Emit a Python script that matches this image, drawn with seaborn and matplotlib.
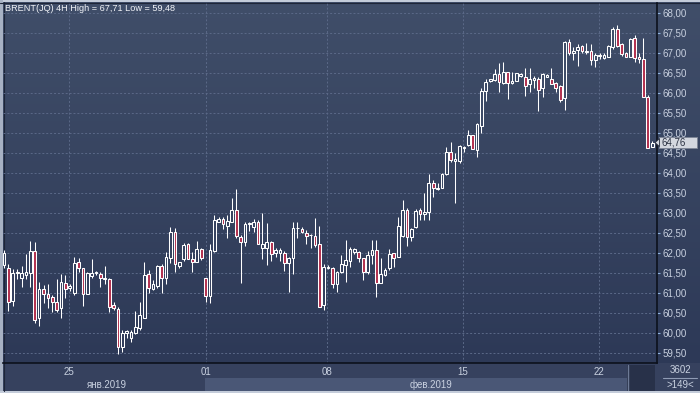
import numpy as np
import pandas as pd
import matplotlib
matplotlib.use("Agg")
import matplotlib.pyplot as plt
import seaborn as sns
from matplotlib.patches import Rectangle, Polygon

# ---------------- data (4H candles, BRENT) ----------------
opens = [61.70, 61.62, 60.80, 61.49, 61.38, 61.45, 61.49, 62.06, 60.37, 61.09,
         60.97, 60.89, 60.77, 60.62, 61.26, 61.12, 60.99, 61.77, 61.62, 60.97,
         61.43, 61.50, 61.48, 61.36, 61.34, 60.70, 60.59, 59.66, 60.00, 59.87,
         60.01, 60.12, 60.38, 61.47, 61.10, 61.18, 61.67, 61.37, 61.88, 62.53,
         61.68, 61.84, 62.22, 61.85, 61.78, 62.09, 61.37, 60.92, 62.06, 62.78,
         62.84, 62.68, 62.77, 63.08, 62.41, 62.27, 62.72, 62.64, 62.78, 62.13,
         62.13, 62.27, 61.99, 62.00, 61.99, 61.74, 61.88, 62.62, 62.60, 62.51,
         62.44, 62.42, 62.22, 60.70, 61.62, 61.62, 61.22, 61.53, 61.70, 61.81,
         62.03, 62.02, 61.87, 61.53, 61.95, 62.08, 61.24, 61.45, 61.63, 61.99,
         61.91, 62.43, 63.08, 62.41, 62.64, 63.07, 62.97, 63.02, 63.74, 63.61,
         63.62, 63.97, 64.53, 64.29, 64.29, 64.63, 64.70, 64.95, 64.58, 65.18,
         66.05, 66.30, 66.33, 66.47, 66.26, 66.52, 66.26, 66.31, 66.43, 66.41,
         66.22, 66.33, 66.34, 66.12, 66.39, 66.34, 66.24, 66.18, 65.87, 67.28,
         66.99, 67.08, 67.18, 67.02, 67.05, 66.83, 66.93, 66.87, 66.89, 67.16,
         67.59, 67.22, 66.99, 66.89, 67.37, 66.89, 66.84, 65.89, 64.64]
highs = [62.08, 61.73, 61.59, 61.59, 61.67, 61.97, 62.30, 62.28, 61.28, 61.20,
         61.22, 60.95, 61.34, 61.48, 61.45, 61.23, 61.91, 61.87, 61.62, 61.52,
         61.85, 61.56, 61.52, 61.67, 61.37, 60.77, 60.66, 60.08, 60.08, 60.08,
         60.55, 60.77, 61.77, 61.57, 61.32, 61.70, 61.72, 62.02, 62.64, 62.62,
         61.78, 62.24, 62.24, 62.03, 62.30, 62.12, 61.38, 62.22, 62.95, 62.89,
         62.91, 62.95, 63.38, 63.60, 62.45, 62.78, 62.78, 62.84, 62.82, 63.01,
         62.76, 62.30, 62.12, 62.12, 62.05, 61.91, 62.78, 62.78, 62.66, 62.57,
         62.47, 62.87, 62.67, 61.72, 61.70, 61.66, 61.55, 61.95, 62.33, 62.16,
         62.12, 62.05, 61.88, 62.05, 62.33, 62.33, 61.87, 61.62, 62.10, 61.99,
         62.89, 63.33, 63.12, 62.63, 63.09, 63.13, 63.50, 63.97, 63.82, 63.76,
         63.99, 64.64, 64.78, 64.49, 64.70, 64.68, 65.08, 64.96, 65.24, 66.12,
         66.34, 66.34, 66.59, 66.76, 66.78, 66.53, 66.53, 66.49, 66.49, 66.62,
         66.62, 66.43, 66.41, 66.49, 66.47, 66.62, 66.28, 66.20, 67.31, 67.34,
         67.14, 67.22, 67.20, 67.26, 67.22, 66.99, 67.01, 66.99, 67.20, 67.64,
         67.71, 67.26, 67.03, 67.37, 67.45, 66.99, 67.37, 65.95, 64.81]
lows = [61.62, 60.55, 60.68, 61.35, 61.14, 61.35, 61.16, 60.26, 60.18, 60.74,
        60.62, 60.53, 60.53, 60.38, 60.87, 61.05, 60.95, 61.53, 60.68, 60.97,
        61.37, 61.45, 61.14, 61.22, 60.52, 60.58, 59.48, 59.53, 59.87, 59.77,
        59.97, 60.08, 60.38, 61.01, 61.08, 61.12, 61.01, 61.22, 61.74, 61.52,
        61.63, 61.80, 61.84, 61.52, 61.77, 61.83, 60.78, 60.74, 62.02, 62.77,
        62.60, 62.38, 62.77, 62.38, 61.26, 62.18, 62.56, 62.52, 62.22, 61.85,
        61.70, 61.80, 61.91, 61.80, 61.55, 61.03, 61.48, 62.37, 62.49, 62.22,
        62.12, 62.16, 60.66, 60.58, 61.59, 61.12, 61.02, 61.51, 61.27, 61.66,
        61.97, 61.78, 61.33, 61.47, 61.72, 60.89, 61.24, 61.43, 61.58, 61.66,
        61.91, 62.41, 62.18, 62.30, 62.63, 62.83, 62.83, 62.83, 63.41, 63.57,
        63.62, 63.95, 64.28, 63.26, 64.24, 64.53, 64.68, 64.59, 64.39, 64.99,
        65.81, 66.28, 66.30, 66.03, 66.22, 65.85, 66.22, 66.31, 66.41, 65.93,
        66.03, 66.12, 65.56, 65.89, 66.39, 66.22, 66.03, 65.78, 65.58, 66.95,
        66.83, 66.68, 66.99, 66.98, 66.70, 66.66, 66.84, 66.84, 66.89, 67.10,
        67.16, 66.93, 66.89, 66.89, 66.78, 66.74, 65.89, 64.62, 64.64]
closes = [62.00, 60.78, 61.49, 61.52, 61.49, 61.52, 62.05, 60.33, 61.09, 60.97,
          60.87, 60.77, 60.58, 61.28, 61.09, 61.18, 61.76, 61.62, 60.97, 61.49,
          61.49, 61.52, 61.37, 61.38, 60.66, 60.62, 59.66, 60.01, 60.04, 60.03,
          60.16, 60.45, 61.45, 61.12, 61.22, 61.67, 61.37, 61.91, 62.53, 61.72,
          61.78, 62.20, 61.85, 61.77, 62.10, 61.87, 60.93, 62.08, 62.82, 62.86,
          62.72, 62.80, 63.08, 62.42, 62.27, 62.73, 62.76, 62.78, 62.22, 62.22,
          62.27, 61.97, 62.07, 62.07, 61.74, 61.88, 62.62, 62.63, 62.52, 62.43,
          62.45, 62.20, 60.66, 61.66, 61.66, 61.22, 61.52, 61.72, 61.82, 62.10,
          62.09, 61.88, 61.53, 61.95, 62.08, 61.26, 61.47, 61.57, 61.97, 61.88,
          62.68, 63.08, 62.41, 62.60, 63.05, 62.97, 63.03, 63.74, 63.62, 63.63,
          63.97, 64.53, 64.33, 64.34, 64.67, 64.65, 64.95, 64.59, 65.22, 66.06,
          66.28, 66.34, 66.47, 66.28, 66.52, 66.26, 66.30, 66.49, 66.47, 66.18,
          66.34, 66.37, 66.08, 66.47, 66.45, 66.22, 66.12, 65.83, 67.28, 66.99,
          67.06, 67.16, 67.05, 67.05, 66.83, 66.95, 66.95, 66.95, 67.18, 67.59,
          67.18, 66.97, 66.89, 67.34, 66.87, 66.84, 65.91, 64.63, 64.76]

day_labels = ["25", "01", "08", "15", "22"]
day_positions = [14.8, 46.0, 73.7, 104.8, 135.8]
month_labels = ["янв.2019", "фев.2019"]
price_ticks = [59.5, 60.0, 60.5, 61.0, 61.5, 62.0, 62.5, 63.0, 63.5,
               64.0, 64.5, 65.0, 65.5, 66.0, 66.5, 67.0, 67.5, 68.0]
title = "BRENT(JQ) 4H High = 67,71 Low = 59,48"
last_price = closes[-1]
bar_count = "3602"
visible_count = ">149<"

df = pd.DataFrame({"idx": np.arange(len(opens)), "open": opens, "high": highs,
                   "low": lows, "close": closes})
df["up"] = df["close"] >= df["open"]

# ---------------- style ----------------
sns.set_theme(style="dark")
plt.rcParams["font.family"] = ["Liberation Sans", "DejaVu Sans"]

W, H = 700, 393
fig = plt.figure(figsize=(7.0, 3.93), dpi=100)
fig.patch.set_facecolor("#aab4c6")

top_rgb = np.array([64, 78, 105]) / 255
bot_rgb = np.array([45, 57, 87]) / 255

# background axes in pixel coordinates
bg = fig.add_axes([0, 0, 1, 1])
bg.axis("off")
grad = np.linspace(0, 1, 256)[:, None, None]
img = top_rgb * (1 - grad) + bot_rgb * grad
bg.imshow(img, extent=[0, W, 363, 0], aspect="auto", interpolation="bilinear", zorder=0)
# bottom axis rows
bg.add_patch(Rectangle((0, 363), W, 30, facecolor="#36415e", edgecolor="none", zorder=1))
bg.add_patch(Rectangle((205, 378), 422, 13, facecolor="#4a5776", edgecolor="none", zorder=2))
bg.add_patch(Rectangle((627, 365), 28, 26, facecolor="#283149", edgecolor="none", zorder=3))
bg.plot([627.5, 627.5], [365, 391], color="#6d7a96", lw=1, zorder=4)
# frame
bg.add_patch(Rectangle((0, 0), W, 2, facecolor="#c4ccda", edgecolor="none", zorder=5))
bg.add_patch(Rectangle((0, 0), 3, H, facecolor="#a7b1c3", edgecolor="none", zorder=5))
bg.add_patch(Rectangle((0, 391), W, 2, facecolor="#c4ccda", edgecolor="none", zorder=5))
bg.plot([0, W], [2.5, 2.5], color="#1e2638", lw=0.8, zorder=6)
bg.plot([3.5, 3.5], [2, 391], color="#1e2638", lw=0.8, zorder=6)
bg.set_xlim(0, W)
bg.set_ylim(H, 0)

# ---------------- main candlestick axes ----------------
ax = fig.add_axes([3 / W, 30 / H, 654 / W, 360 / H])
ax.set_facecolor("none")
ax.set_xlim(-0.25, 149.1)
ax.set_ylim(59.25, 68.25)

ax.set_yticks(price_ticks)
ax.set_yticklabels([f"{v:.2f}".replace(".", ",") for v in price_ticks])
ax.set_xticks(day_positions)
ax.set_xticklabels(day_labels)
ax.grid(True, color="#5b6988", linestyle=(0, (2, 2)), linewidth=0.7)
ax.set_axisbelow(True)

ax.yaxis.tick_right()
ax.tick_params(axis="y", right=True, left=False, length=2.5, width=0.8, color="#8fb3df",
               pad=1.5, labelsize=7, labelcolor="#c9d1e0")
ax.tick_params(axis="x", bottom=False, length=0, pad=3, labelsize=7, labelcolor="#c9d1e0")
for s in ["left", "top"]:
    ax.spines[s].set_visible(False)
for s in ["right", "bottom"]:
    ax.spines[s].set_color("#0c111c")
    ax.spines[s].set_linewidth(1.2)


def bg_at(price):
    ypx = 13 + (68 - price) * 40
    t = np.clip(ypx / 363, 0, 1)
    return tuple(top_rgb * (1 - t) + bot_rgb * t)


# wicks
ax.vlines(df["idx"], df["low"], df["high"], color="white", linewidth=0.75, zorder=3)
# bodies
body_bottom = np.minimum(df["open"], df["close"])
body_height = np.maximum(np.abs(df["close"] - df["open"]), 0.015)
fills = [bg_at((o + c) / 2) if up else "#b3304f"
         for o, c, up in zip(df["open"], df["close"], df["up"])]
ax.bar(df["idx"], body_height, bottom=body_bottom, width=0.62, color=fills,
       edgecolor="white", linewidth=0.75, zorder=4)

# ---------------- overlay (texts, last price box) ----------------
ov = fig.add_axes([0, 0, 1, 1])
ov.axis("off")
ov.set_xlim(0, W)
ov.set_ylim(H, 0)
ov.text(5, 8.5, title, color="#f2f4f8", fontsize=6.6, ha="left", va="center")

ov.text(107, 385, month_labels[0], color="#c9d1e0", fontsize=7, ha="center", va="center")
ov.text(431, 385, month_labels[1], color="#c9d1e0", fontsize=7, ha="center", va="center")

ov.text(680, 370, bar_count, color="#c9d1e0", fontsize=7, ha="center", va="center")
ov.plot([663, 697], [377.5, 377.5], color="#8f9bb4", lw=0.8)
ov.text(680, 384.5, visible_count, color="#c9d1e0", fontsize=7, ha="center", va="center")

y_last = 13 + (68 - last_price) * 40
ov.add_patch(Rectangle((659, y_last - 5.5), 38, 11, facecolor="#d3d7df",
                       edgecolor="#7d8596", linewidth=0.6, zorder=5))
ov.add_patch(Polygon([(655, y_last), (659.5, y_last - 4), (659.5, y_last + 4)],
                     closed=True, facecolor="#d3d7df", edgecolor="#2a3142",
                     linewidth=0.6, zorder=6))
ov.text(661, y_last + 0.3, f"{last_price:.2f}".replace(".", ","), color="#2a3142",
        fontsize=7, ha="left", va="center", zorder=7)

fig.savefig("out.png", dpi=100)
